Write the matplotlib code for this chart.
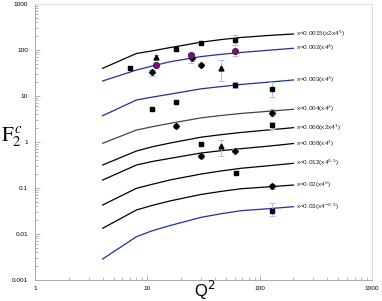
import matplotlib
matplotlib.use("Agg")
import matplotlib.pyplot as plt
from matplotlib.ticker import LogLocator, FixedLocator, FixedFormatter, NullFormatter
import numpy as np

# ---- data ----
q2_grid = [4, 8, 11, 16, 30, 45, 68, 120, 200]
curves = {
    "x=0.0015(x2x4$^{5}$)":  [40.0, 84.0, 95.5, 113.0, 148.0, 168.0, 187.0, 207.0, 223.0],
    "x=0.002(x4$^{4}$)":     [21.2, 36.7, 44.7, 55.7, 71.9, 80.4, 88.3, 98.9, 109.0],
    "x=0.003(x4$^{3}$)":     [3.73, 8.19, 9.44, 11.0, 14.3, 16.0, 17.8, 20.0, 22.3],
    "x=0.004(x4$^{2}$)":     [0.937, 1.82, 2.14, 2.55, 3.34, 3.76, 4.17, 4.66, 5.14],
    "x=0.006(x2x4$^{1}$)":   [0.316, 0.637, 0.785, 0.951, 1.27, 1.44, 1.61, 1.83, 2.05],
    "x=0.008(x4$^{1}$)":     [0.149, 0.316, 0.376, 0.442, 0.576, 0.646, 0.715, 0.813, 0.927],
    "x=0.012(x4$^{0.5}$)":   [0.0427, 0.0985, 0.120, 0.150, 0.201, 0.234, 0.268, 0.305, 0.344],
    "x=0.02(x4$^{0}$)":      [0.0133, 0.0333, 0.0417, 0.0525, 0.0723, 0.0841, 0.0962, 0.106, 0.116],
    "x=0.03(x4$^{-0.5}$)":   [0.00286, 0.00873, 0.0117, 0.0153, 0.0230, 0.0275, 0.0321, 0.0355, 0.0392],
}
curve_colors = ["black", "#1f2f9f", "#1f2f9f", "#444444", "black",
                "black", "black", "black", "#1f2f9f"]

sq_q2 = [7.05, 18.0, 30.2, 60.2, 60.2, 11.0, 18.0, 30.2, 61.0, 129.8, 129.8, 129.8]
sq_f = [40.6, 103.5, 140.0, 165.0, 17.1, 5.3, 7.5, 0.906, 0.215, 14.0, 2.35, 0.0321]
sq_lo = [38.0, 97.0, 132.0, 128.0, 14.9, 5.0, 7.1, 0.86, 0.2, 9.5, 1.9, 0.0246]
sq_hi = [43.0, 110.0, 148.0, 212.0, 20.1, 5.6, 7.9, 0.95, 0.23, 20.1, 2.7, 0.047]

dm_q2 = [11.0, 30.2, 18.0, 60.2, 30.2, 129.8, 129.8, 25.0]
dm_f = [33.3, 47.2, 2.23, 0.647, 0.497, 4.34, 0.110, 66.0]
dm_lo = [27.2, 43.0, 2.0, 0.6, 0.44, 3.6, 0.095, 58.0]
dm_hi = [36.7, 51.0, 2.45, 0.7, 0.56, 5.1, 0.125, 74.0]

tr_q2 = [11.9, 44.9, 44.9]
tr_f = [69.4, 40.0, 0.818]
tr_lo = [60.0, 21.2, 0.5]
tr_hi = [79.0, 60.6, 1.1]

ci_q2 = [11.9, 24.6, 60.2]
ci_f = [47.2, 76.8, 96.6]
ci_lo = [43.0, 51.4, 74.0]
ci_hi = [51.0, 87.0, 128.0]

xticks = [1, 10, 100, 1000]
xticklabels = ["1", "10", "100", "1000"]
yticks = [0.001, 0.01, 0.1, 1, 10, 100, 1000]
yticklabels = ["0.001", "0.01", "0.1", "1", "10", "100", "1000"]

# ---- figure ----
plt.rcParams['font.family'] = ['Liberation Sans', 'DejaVu Sans']
fig = plt.figure(figsize=(3.82, 3.01), dpi=100)
ax = fig.add_axes([35/382, 21/301, 337/382, 276/301])
ax.set_xscale('log')
ax.set_yscale('log')
ax.set_xlim(1, 1000)
ax.set_ylim(0.001, 1000)

for (lab, vals), col in zip(curves.items(), curve_colors):
    ax.plot(q2_grid, vals, color=col, lw=0.9)
    ax.annotate(lab, (q2_grid[-1], vals[-1]), xytext=(2, 0), textcoords='offset points',
                fontsize=4.6, va='center', ha='left', color='#222222')

ecol = '#b4bce8'
def pts(q, f, lo, hi, **kw):
    f = np.array(f); lo = np.array(lo); hi = np.array(hi)
    ax.errorbar(q, f, yerr=[f - lo, hi - f], fmt='none', ecolor=ecol,
                elinewidth=0.7, capsize=2, capthick=0.7, zorder=3)
    ax.plot(q, f, ls='none', zorder=4, **kw)

pts(sq_q2, sq_f, sq_lo, sq_hi, marker='s', ms=3, color='black')
pts(dm_q2, dm_f, dm_lo, dm_hi, marker='D', ms=3, color='black')
pts(tr_q2, tr_f, tr_lo, tr_hi, marker='^', ms=3.5, color='black')
pts(ci_q2, ci_f, ci_lo, ci_hi, marker='o', ms=4.5, color='#7a0f7a', mec='#3a0a3a', mew=0.5)

ax.xaxis.set_major_locator(FixedLocator(xticks))
ax.xaxis.set_major_formatter(FixedFormatter(xticklabels))
ax.yaxis.set_major_locator(FixedLocator(yticks))
ax.yaxis.set_major_formatter(FixedFormatter(yticklabels))
ax.xaxis.set_minor_locator(LogLocator(base=10, subs=np.arange(2, 10)))
ax.yaxis.set_minor_locator(LogLocator(base=10, subs=np.arange(2, 10)))
ax.xaxis.set_minor_formatter(NullFormatter())
ax.yaxis.set_minor_formatter(NullFormatter())
ax.tick_params(which='both', direction='in', color='#aaaaaa', labelsize=4.6,
               top=False, right=False, width=0.6)
ax.tick_params(which='major', length=3.5)
ax.tick_params(which='minor', length=2)
ax.tick_params(axis='x', pad=4)
ax.tick_params(axis='y', pad=5)

for s in ['left', 'bottom']:
    ax.spines[s].set_color('#aaaaaa')
    ax.spines[s].set_linewidth(0.7)
for s in ['top', 'right']:
    ax.spines[s].set_color('#dddddd')
    ax.spines[s].set_linewidth(0.7)

fig.text(205/382, 1 - 297/301, 'Q$^2$', fontsize=12, ha='center', va='baseline',
         math_fontfamily='dejavusans')
fig.text(12/382, 1 - 137/301, r'$\mathrm{F}_2^{\,c}$', fontsize=15, ha='center', va='center',
         math_fontfamily='stix')

fig.savefig('out.png', dpi=100)
